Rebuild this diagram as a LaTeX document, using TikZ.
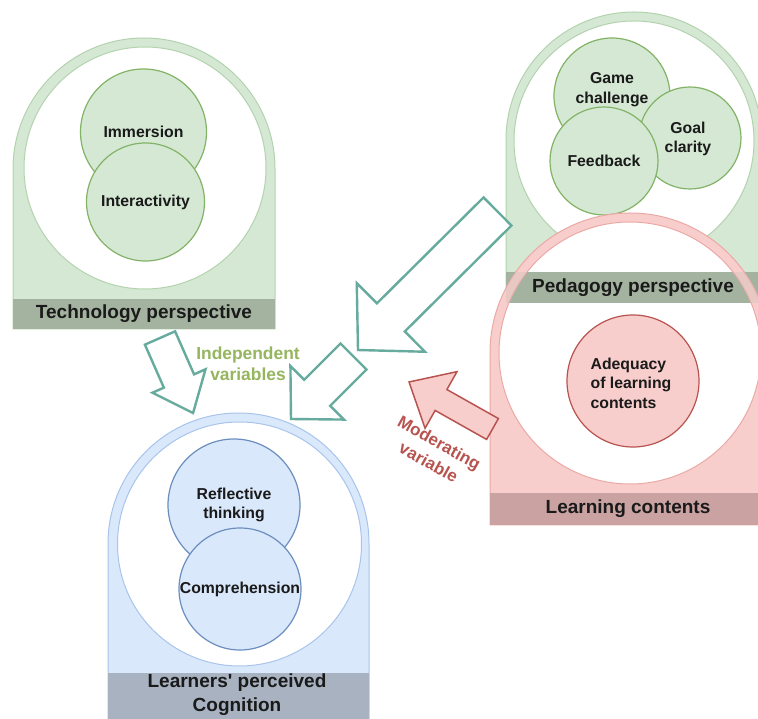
\documentclass[tikz,border=0pt]{standalone}
\usepackage{fontspec}
\setmainfont{Liberation Sans}
\definecolor{gfill}{HTML}{D5E8D4}
\definecolor{gedge}{HTML}{B3D3AF}
\definecolor{gcirc}{HTML}{82B366}
\definecolor{bfill}{HTML}{DAE8FC}
\definecolor{bedge}{HTML}{A9C4EB}
\definecolor{bcirc}{HTML}{6C8EBF}
\definecolor{rfill}{HTML}{F8CECC}
\definecolor{redge}{HTML}{EBA9A6}
\definecolor{rcirc}{HTML}{B85450}
\definecolor{gband}{HTML}{A3B39F}
\definecolor{rband}{HTML}{C9A2A1}
\definecolor{bband}{HTML}{A8B2C1}
\definecolor{tealc}{HTML}{67AB9F}
\definecolor{indep}{HTML}{95B55E}
\definecolor{txt}{HTML}{1A1A1A}
\tikzset{
  ctext/.style={font=\bfseries\fontsize{15.8}{19.5}\selectfont, text=txt, align=center, inner sep=0pt},
  btext/.style={font=\bfseries\fontsize{19}{24}\selectfont, text=txt, align=center, inner sep=0pt},
  gcircle/.style={circle, draw=gcirc, fill=gfill, line width=1.2pt, inner sep=0pt},
  bcircle/.style={circle, draw=bcirc, fill=bfill, line width=1.2pt, inner sep=0pt},
  rcircle/.style={circle, draw=rcirc, fill=rfill, line width=1.2pt, inner sep=0pt},
  tealarrow/.style={draw=tealc, fill=white, line width=2.4pt, line join=miter},
  pinkarrow/.style={draw=rcirc, fill=rfill, line width=1.5pt, line join=miter},
}
\newcommand\blkarrow[8]{%
  \begin{scope}[shift={(#2,#3)}, rotate=#4]
    \draw[#1] (0,#6) -- ({#5-#8},#6) -- ({#5-#8},#7) -- (#5,0) -- ({#5-#8},-#7) -- ({#5-#8},-#6) -- (0,-#6) -- cycle;
  \end{scope}}
\begin{document}
\begin{tikzpicture}[x=1pt,y=1pt]
\useasboundingbox (0,0) rectangle (758,718);
\clip (0,0) rectangle (758,718);
\fill[white] (0,0) rectangle (758,718);

% ---------- Technology perspective ----------
\draw[fill=gfill, draw=gedge, line width=1pt] (13,389) -- (13,549) arc[start angle=180, end angle=0, radius=131pt] -- (275,389) -- cycle;
\draw[fill=white, draw=gedge, line width=1pt] (145,550) circle[radius=121pt];
\node[gcircle, minimum size=126pt] (imm) at (143.5,586) {};
\node[ctext] at (imm.center) {Immersion};
\node[gcircle, minimum size=118pt] (int) at (145.5,516) {};
\node[ctext] at (int.center) {Interactivity};
\fill[gband] (13,389) rectangle (275,419);
\node[btext] (tech) at (144,404) {Technology perspective};

% ---------- Pedagogy perspective ----------
\draw[fill=gfill, draw=gedge, line width=1pt] (506,415) -- (506,578) arc[start angle=180, end angle=0, radius=128pt] -- (762,415) -- cycle;
\draw[fill=white, draw=gedge, line width=1pt] (634,577) circle[radius=120pt];
\node[gcircle, minimum size=116pt] (game) at (612,622) {};
\node[ctext] at (612,628.5) {Game\\challenge};
\node[gcircle, minimum size=102pt] (goal) at (690,580) {};
\node[ctext] at (688,579) {Goal\\clarity};
\node[gcircle, minimum size=108pt] (feed) at (604,557) {};
\node[ctext] at (feed.center) {Feedback};

% ---------- Learning contents ----------
\draw[fill=rfill, draw=redge, line width=1pt] (490,193) -- (490,365) arc[start angle=180, end angle=0, radius=140pt] -- (770,193) -- cycle;
\draw[fill=white, draw=redge, line width=1pt] (630,365) circle[radius=131pt];
\fill[gband] (506,415) rectangle (762,446);
\node[btext] (ped) at (633,430) {Pedagogy perspective};
\begin{scope}
  \clip (506,415) rectangle (762,446);
  \fill[rfill, opacity=0.8, even odd rule] (630,365) circle[radius=140pt] (630,365) circle[radius=131pt];
  \draw[redge, line width=1pt, opacity=0.8] (630,365) circle[radius=140pt] (630,365) circle[radius=131pt];
\end{scope}
\node[rcircle, minimum size=132pt] (adeq) at (633,337) {};
\node[ctext, align=left] at (631,335) {Adequacy\\of learning\\contents};
\fill[rband] (490,193) rectangle (770,225);
\node[btext] (learn) at (628,209) {Learning contents};

% ---------- Learners' perceived Cognition ----------
\draw[fill=bfill, draw=bedge, line width=1pt] (108,-2) -- (108,174.5) arc[start angle=180, end angle=0, radius=130.5pt] -- (369,-2) -- cycle;
\draw[fill=white, draw=bedge, line width=1pt] (239.5,174) circle[radius=122pt];
\node[bcircle, minimum size=132pt] (refl) at (234,213) {};
\node[ctext] at (refl.center) {Reflective\\thinking};
\node[bcircle, minimum size=122pt] (comp) at (240,129) {};
\node[ctext] at (comp.center) {Comprehension};
\fill[bband] (108,-2) rectangle (369,45);
\node[btext] (cog) at (237,23) {Learners\textquotesingle\ perceived\\Cognition};

% ---------- Arrows ----------
\blkarrow{tealarrow}{160}{380}{-66.2}{82}{16.5}{29}{35}
\blkarrow{tealarrow}{497.5}{506.5}{-135.2}{196.6}{19.8}{48.4}{46.3}
\blkarrow{tealarrow}{353.5}{361.5}{-135}{88.4}{18.4}{37.8}{37}
\blkarrow{pinkarrow}{492.5}{289}{150.6}{95.8}{12}{32.5}{36.7}

% ---------- Labels ----------
\node[font=\bfseries\fontsize{17.4}{21.5}\selectfont, text=indep, align=center, inner sep=0pt] (indlab) at (248,354) {Independent\\variables};
\node[font=\bfseries\fontsize{17}{22}\selectfont, text=rcirc, align=center, inner sep=0pt, rotate=-29] (modlab) at (434,265.5) {Moderating\\variable};
\end{tikzpicture}
\end{document}
